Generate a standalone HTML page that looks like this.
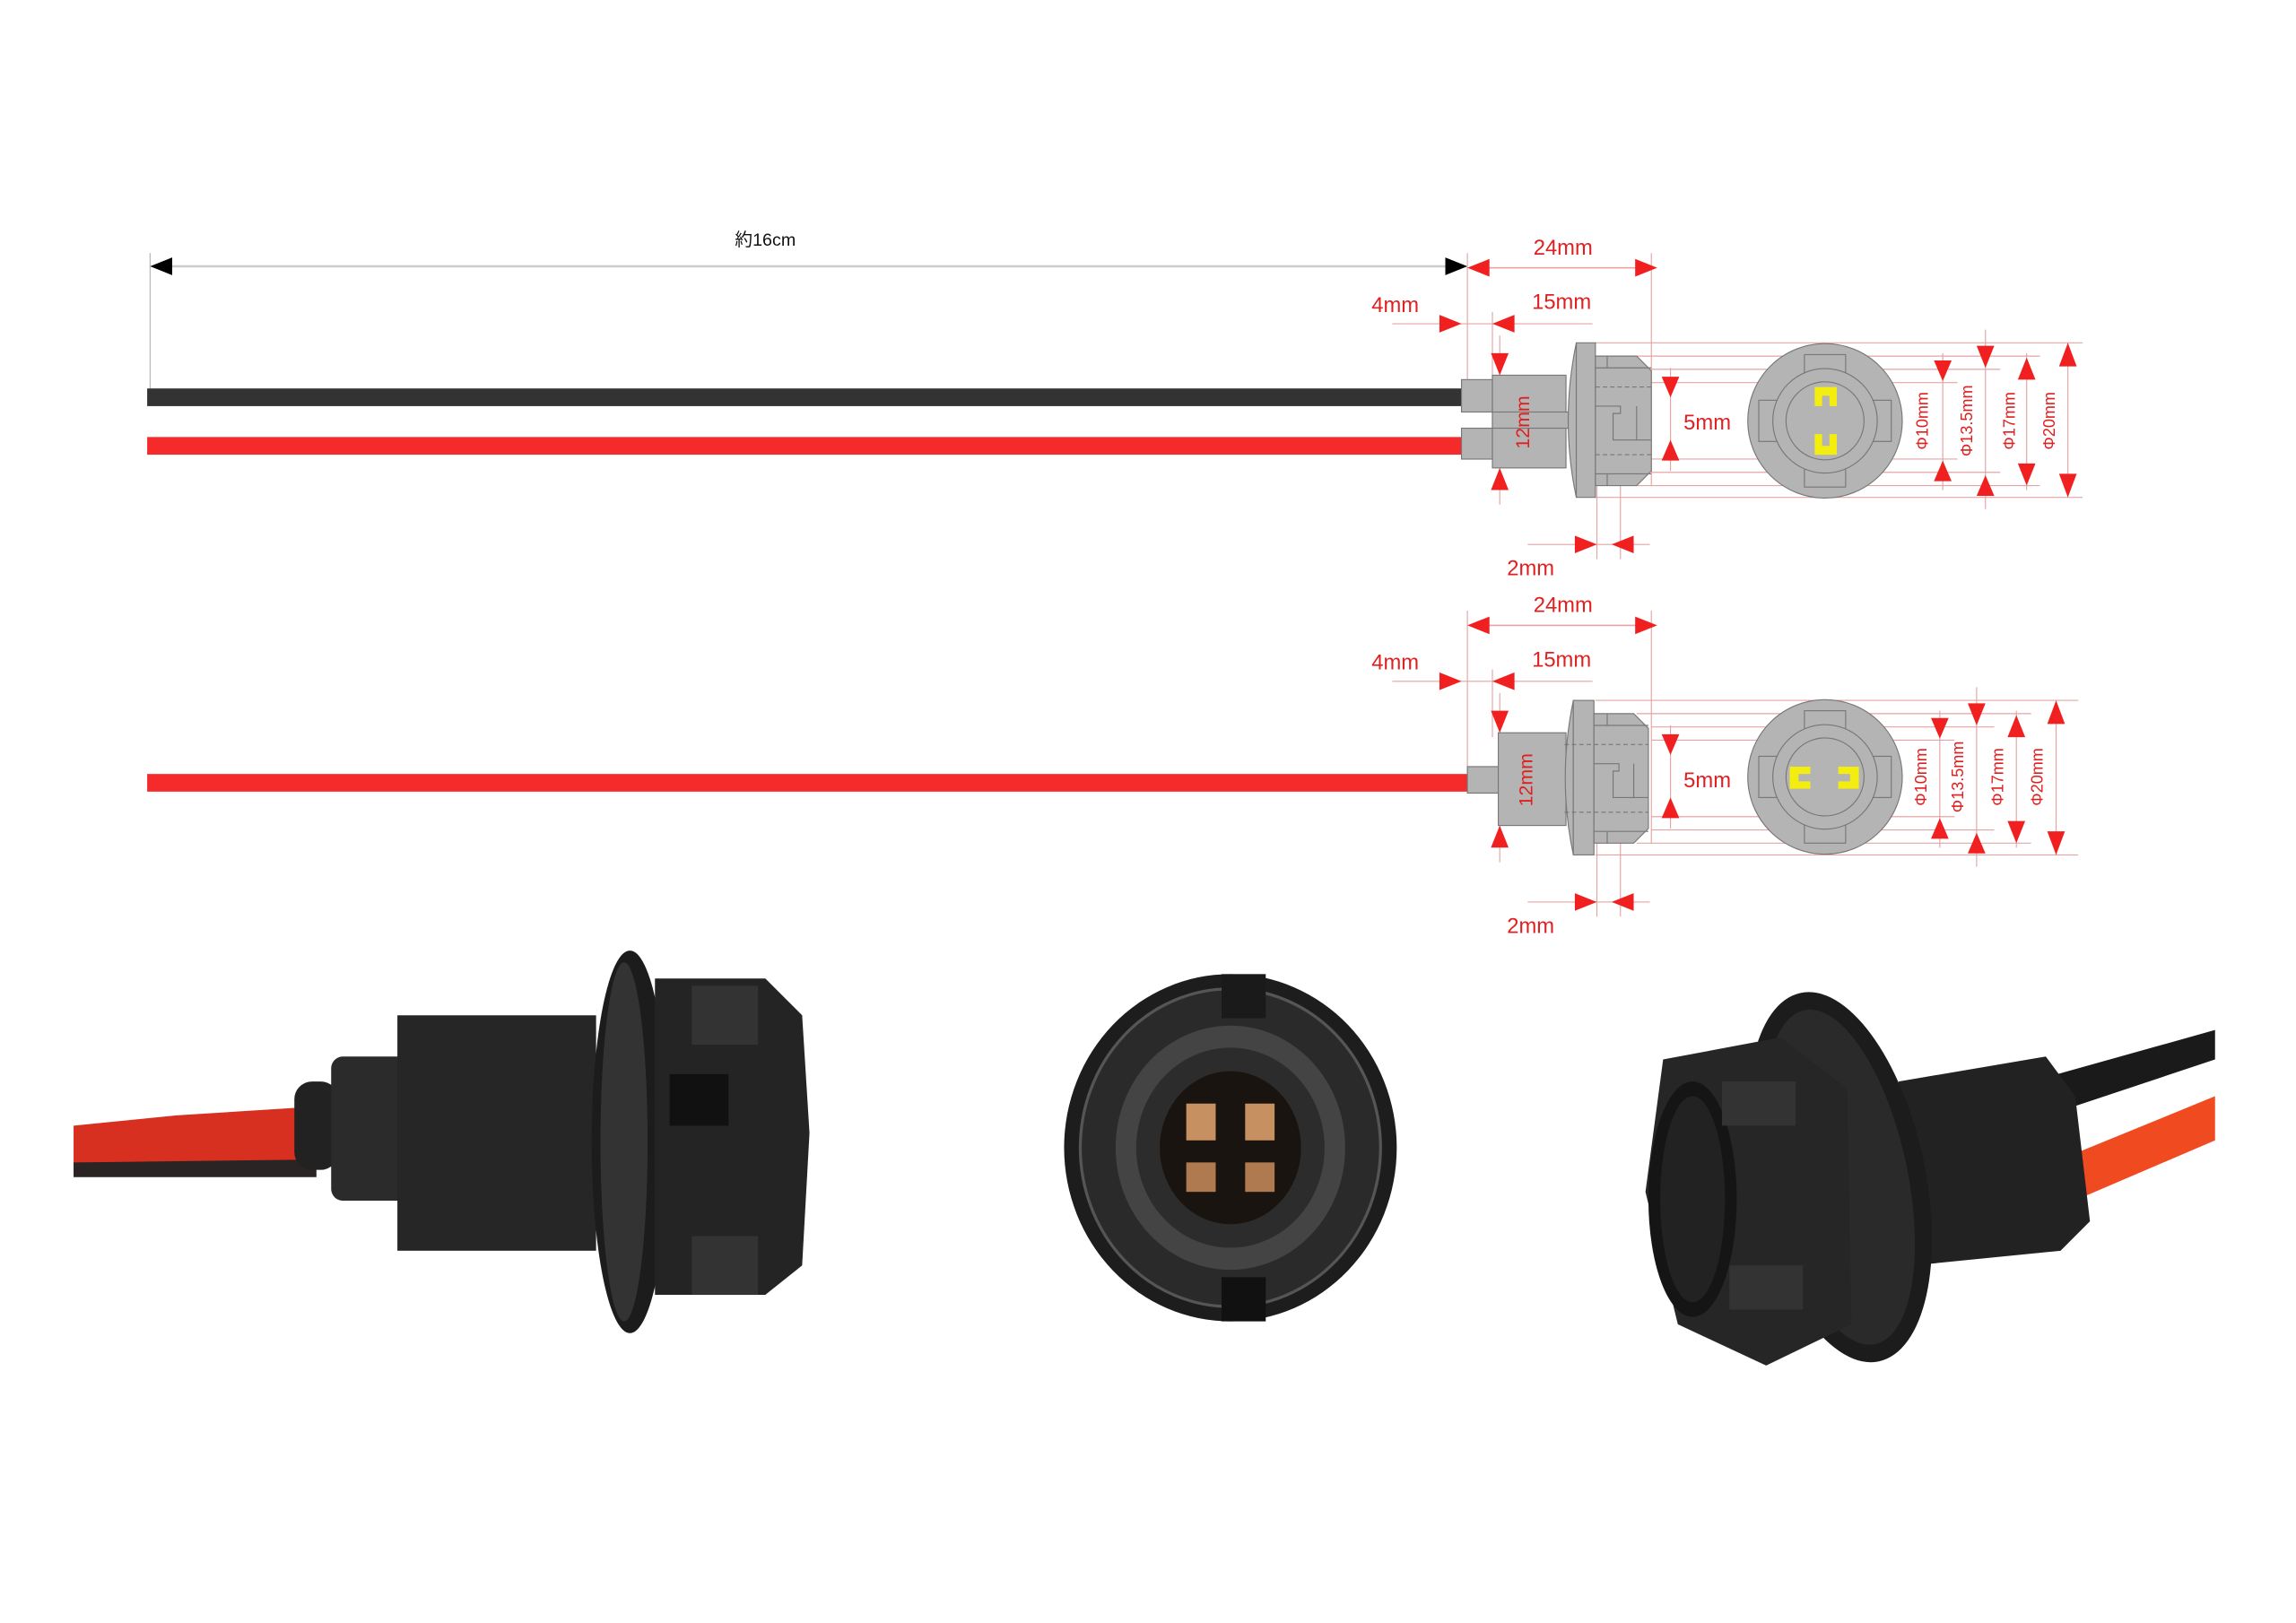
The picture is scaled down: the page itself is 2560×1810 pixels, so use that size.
<!DOCTYPE html>
<html><head><meta charset="utf-8"><style>
html,body{margin:0;padding:0;background:#fff;}
svg{display:block;}
text{font-family:"Liberation Sans","Noto Sans CJK JP",sans-serif;}
</style></head><body>
<svg width="2560" height="1810" viewBox="0 0 1560 1103" preserveAspectRatio="none" xmlns="http://www.w3.org/2000/svg">
<defs>
<marker id="x" viewBox="0 0 1 1"/>
</defs>
<rect width="1560" height="1103" fill="#fff"/>

<!-- top length dimension -->
<line x1="102" y1="172" x2="102" y2="264" stroke="#bbb" stroke-width="0.8"/>
<line x1="110" y1="181" x2="985" y2="181" stroke="#ccc" stroke-width="1.5"/>
<polygon points="102,181 117,175 117,187" fill="#000"/>
<polygon points="997,181 982,175 982,187" fill="#000"/>
<text x="520" y="167" font-size="12" fill="#111" text-anchor="middle">約16cm</text>

<!-- wires -->
<rect x="100" y="264" width="898" height="12" fill="#333"/>
<rect x="100" y="297" width="898" height="12" fill="#f52a2a"/>
<rect x="100" y="526" width="898" height="12" fill="#f52a2a"/>

<!-- Connector drawing 1 -->
<g id="c1" stroke-width="0.8">
  <g stroke="#e4a4a4" stroke-width="0.7" fill="none">
    <line x1="997" y1="172" x2="997" y2="262"/>
    <line x1="1122" y1="172" x2="1122" y2="330"/>
    <line x1="946" y1="220" x2="1082" y2="220"/>
    <line x1="1014" y1="212" x2="1014" y2="258"/>
    <line x1="1019" y1="228" x2="1019" y2="343"/>
    <line x1="1135" y1="250" x2="1135" y2="320"/>
    <line x1="1038" y1="370" x2="1121" y2="370"/>
    <line x1="1085" y1="330" x2="1085" y2="380"/>
    <line x1="1101" y1="330" x2="1101" y2="380"/>
    <line x1="1084" y1="233" x2="1415" y2="233"/>
    <line x1="1112" y1="242" x2="1386" y2="242"/>
    <line x1="1122" y1="251" x2="1359" y2="251"/>
    <line x1="1122" y1="260" x2="1330" y2="260"/>
    <line x1="1122" y1="312" x2="1330" y2="312"/>
    <line x1="1122" y1="321" x2="1359" y2="321"/>
    <line x1="1112" y1="330" x2="1386" y2="330"/>
    <line x1="1084" y1="338" x2="1415" y2="338"/>
    <line x1="1320" y1="240" x2="1320" y2="333"/>
    <line x1="1349" y1="224" x2="1349" y2="346"/>
    <line x1="1377" y1="240" x2="1377" y2="333"/>
    <line x1="1405" y1="233" x2="1405" y2="338"/>
  </g>
  <line x1="1005" y1="182" x2="1115" y2="182" stroke="#e4a4a4" stroke-width="1"/>
  <g fill="#f02020">
    <polygon points="997,182 1012,176 1012,188"/>
    <polygon points="1126,182 1111,176 1111,188"/>
    <polygon points="993,220 978,214 978,226"/>
    <polygon points="1014,220 1029,214 1029,226"/>
    <polygon points="1019,255 1013,240 1025,240"/>
    <polygon points="1019,318 1013,333 1025,333"/>
    <polygon points="1135,270 1129,256 1141,256"/>
    <polygon points="1135,299 1129,313 1141,313"/>
    <polygon points="1085,370 1070,364 1070,376"/>
    <polygon points="1095,370 1110,364 1110,376"/>
    <polygon points="1320,259 1314,245 1326,245"/>
    <polygon points="1320,313 1314,327 1326,327"/>
    <polygon points="1349,250 1343,235 1355,235"/>
    <polygon points="1349,323 1343,337 1355,337"/>
    <polygon points="1377,243 1371,258 1383,258"/>
    <polygon points="1377,330 1371,315 1383,315"/>
    <polygon points="1405,233 1399,249 1411,249"/>
    <polygon points="1405,338 1399,322 1411,322"/>
  </g>
  <g fill="#e02020" font-size="14.5">
    <text x="1062" y="173" text-anchor="middle">24mm</text>
    <text x="1061" y="210" text-anchor="middle">15mm</text>
    <text x="948" y="212" text-anchor="middle">4mm</text>
    <text x="1160" y="292" text-anchor="middle">5mm</text>
    <text x="1040" y="391" text-anchor="middle">2mm</text>
  </g>
  <!-- shape -->
  <g fill="#b4b4b4" stroke="#777" stroke-width="0.7">
    <rect x="993" y="258" width="21" height="22"/>
    <rect x="993" y="291" width="21" height="21"/>
    <rect x="1014" y="255" width="50" height="63"/>
    <rect x="1014" y="280" width="58" height="11"/>
    <path d="M1071,233 Q1060,286 1071,338 Z"/>
    <rect x="1071" y="233" width="13" height="105"/>
    <polygon points="1084,242 1112,242 1122,252 1122,320 1112,330 1084,330"/>
    <line x1="1092" y1="242" x2="1092" y2="250" fill="none"/>
    <line x1="1084" y1="250" x2="1122" y2="250" fill="none"/>
    <line x1="1092" y1="322" x2="1092" y2="330" fill="none"/>
    <line x1="1084" y1="322" x2="1122" y2="322" fill="none"/>
    <polyline points="1084,276 1101,276 1101,281 1096,281 1096,299 1122,299" fill="none"/>
    <line x1="1112" y1="276" x2="1112" y2="299" fill="none"/>
    <line x1="1084" y1="263" x2="1122" y2="263" stroke-dasharray="3,2" fill="none"/>
    <line x1="1084" y1="309" x2="1122" y2="309" stroke-dasharray="3,2" fill="none"/>
    <circle cx="1240" cy="286" r="52.5"/>
    <rect x="1226" y="241" width="28" height="20"/>
    <rect x="1226" y="311" width="28" height="20"/>
    <rect x="1195" y="272" width="16" height="28"/>
    <rect x="1269" y="272" width="16" height="28"/>
    <circle cx="1240" cy="286" r="35.5"/>
    <circle cx="1240" cy="286" r="26.5"/>
  </g>
  <g fill="#f4ee10">
    <path d="M1233,263 h15 v13 h-5 v-7 h-5 v7 h-5 z"/>
    <path d="M1233,309 h15 v-14 h-5 v8 h-5 v-8 h-5 z"/>
  </g>
  <g fill="#e02020" font-size="11">
    <text transform="translate(1039,287) rotate(-90)" text-anchor="middle" font-size="13">12mm</text>
    <text transform="translate(1310,286) rotate(-90)" text-anchor="middle">Φ10mm</text>
    <text transform="translate(1340,286) rotate(-90)" text-anchor="middle">Φ13.5mm</text>
    <text transform="translate(1369,286) rotate(-90)" text-anchor="middle">Φ17mm</text>
    <text transform="translate(1396,286) rotate(-90)" text-anchor="middle">Φ20mm</text>
  </g>
</g>

<!-- Connector drawing 2 -->
<g transform="translate(0,243)" stroke-width="0.8">
  <g stroke="#e4a4a4" stroke-width="0.7" fill="none">
    <line x1="997" y1="172" x2="997" y2="283"/>
    <line x1="1122" y1="172" x2="1122" y2="330"/>
    <line x1="946" y1="220" x2="1082" y2="220"/>
    <line x1="1014" y1="212" x2="1014" y2="258"/>
    <line x1="1019" y1="228" x2="1019" y2="343"/>
    <line x1="1135" y1="250" x2="1135" y2="320"/>
    <line x1="1038" y1="370" x2="1121" y2="370"/>
    <line x1="1085" y1="330" x2="1085" y2="380"/>
    <line x1="1101" y1="330" x2="1101" y2="380"/>
    <line x1="1084" y1="233" x2="1412" y2="233"/>
    <line x1="1112" y1="242" x2="1380" y2="242"/>
    <line x1="1122" y1="251" x2="1355" y2="251"/>
    <line x1="1122" y1="260" x2="1328" y2="260"/>
    <line x1="1122" y1="312" x2="1328" y2="312"/>
    <line x1="1122" y1="321" x2="1355" y2="321"/>
    <line x1="1112" y1="330" x2="1380" y2="330"/>
    <line x1="1084" y1="338" x2="1412" y2="338"/>
    <line x1="1318" y1="240" x2="1318" y2="333"/>
    <line x1="1343" y1="224" x2="1343" y2="346"/>
    <line x1="1370" y1="240" x2="1370" y2="333"/>
    <line x1="1397" y1="233" x2="1397" y2="338"/>
  </g>
  <line x1="1005" y1="182" x2="1115" y2="182" stroke="#e4a4a4" stroke-width="1"/>
  <g fill="#f02020">
    <polygon points="997,182 1012,176 1012,188"/>
    <polygon points="1126,182 1111,176 1111,188"/>
    <polygon points="993,220 978,214 978,226"/>
    <polygon points="1014,220 1029,214 1029,226"/>
    <polygon points="1019,255 1013,240 1025,240"/>
    <polygon points="1019,318 1013,333 1025,333"/>
    <polygon points="1135,270 1129,256 1141,256"/>
    <polygon points="1135,299 1129,313 1141,313"/>
    <polygon points="1085,370 1070,364 1070,376"/>
    <polygon points="1095,370 1110,364 1110,376"/>
    <polygon points="1318,259 1312,245 1324,245"/>
    <polygon points="1318,313 1312,327 1324,327"/>
    <polygon points="1343,250 1337,235 1349,235"/>
    <polygon points="1343,323 1337,337 1349,337"/>
    <polygon points="1370,243 1364,258 1376,258"/>
    <polygon points="1370,330 1364,315 1376,315"/>
    <polygon points="1397,233 1391,249 1403,249"/>
    <polygon points="1397,338 1391,322 1403,322"/>
  </g>
  <g fill="#e02020" font-size="14.5">
    <text x="1062" y="173" text-anchor="middle">24mm</text>
    <text x="1061" y="210" text-anchor="middle">15mm</text>
    <text x="948" y="212" text-anchor="middle">4mm</text>
    <text x="1160" y="292" text-anchor="middle">5mm</text>
    <text x="1040" y="391" text-anchor="middle">2mm</text>
  </g>
  <g fill="#b4b4b4" stroke="#777" stroke-width="0.7">
    <rect x="997" y="278" width="21" height="18"/>
    <rect x="1018" y="255" width="46" height="63"/>
    <path d="M1069,233 Q1058,286 1069,338 Z"/>
    <rect x="1069" y="233" width="14" height="105"/>
    <polygon points="1083,242 1110,242 1120,252 1120,320 1110,330 1083,330"/>
    <line x1="1092" y1="242" x2="1092" y2="250" fill="none"/>
    <line x1="1083" y1="250" x2="1120" y2="250" fill="none"/>
    <line x1="1092" y1="322" x2="1092" y2="330" fill="none"/>
    <line x1="1083" y1="322" x2="1120" y2="322" fill="none"/>
    <polyline points="1083,276 1100,276 1100,281 1096,281 1096,299 1120,299" fill="none"/>
    <line x1="1110" y1="276" x2="1110" y2="299" fill="none"/>
    <line x1="1063" y1="263" x2="1120" y2="263" stroke-dasharray="3,2" fill="none"/>
    <line x1="1063" y1="309" x2="1120" y2="309" stroke-dasharray="3,2" fill="none"/>
    <circle cx="1240" cy="285" r="52.5"/>
    <rect x="1226" y="240" width="28" height="20"/>
    <rect x="1226" y="310" width="28" height="20"/>
    <rect x="1195" y="271" width="16" height="28"/>
    <rect x="1269" y="271" width="16" height="28"/>
    <circle cx="1240" cy="285" r="35.5"/>
    <circle cx="1240" cy="285" r="26.5"/>
  </g>
  <g fill="#f4ee10">
    <path d="M1216,278 h14 v5 h-8 v5 h8 v5 h-14 z"/>
    <path d="M1263,278 h-14 v5 h8 v5 h-8 v5 h14 z"/>
  </g>
  <g fill="#e02020" font-size="11">
    <text transform="translate(1041,287) rotate(-90)" text-anchor="middle" font-size="13">12mm</text>
    <text transform="translate(1309,285) rotate(-90)" text-anchor="middle">Φ10mm</text>
    <text transform="translate(1334,285) rotate(-90)" text-anchor="middle">Φ13.5mm</text>
    <text transform="translate(1361,285) rotate(-90)" text-anchor="middle">Φ17mm</text>
    <text transform="translate(1388,285) rotate(-90)" text-anchor="middle">Φ20mm</text>
  </g>
</g>

<!-- Photo 1: side view -->
<g>
  <path d="M50,765 L120,758 L215,752 L215,790 L120,795 L50,797 Z" fill="#d83020"/>
  <path d="M50,790 L215,788 L215,800 L50,800 Z" fill="#2a2424"/>
  <rect x="200" y="735" width="30" height="60" rx="12" fill="#222"/>
  <rect x="225" y="718" width="180" height="98" rx="8" fill="#2b2b2b"/>
  <rect x="270" y="690" width="135" height="160" fill="#262626"/>
  <ellipse cx="428" cy="776" rx="26" ry="130" fill="#1c1c1c"/>
  <ellipse cx="424" cy="776" rx="16" ry="122" fill="#333"/>
  <path d="M445,665 L520,665 L545,690 L550,770 L545,860 L520,880 L445,880 Z" fill="#242424"/>
  <rect x="470" y="670" width="45" height="40" fill="#333"/>
  <rect x="455" y="730" width="40" height="35" fill="#111"/>
  <rect x="470" y="840" width="45" height="40" fill="#333"/>
</g>

<!-- Photo 2: front view -->
<g>
  <ellipse cx="836" cy="780" rx="113" ry="118" fill="#1d1d1d"/>
  <ellipse cx="836" cy="780" rx="102" ry="108" fill="#2a2a2a" stroke="#555" stroke-width="2"/>
  <ellipse cx="836" cy="780" rx="78" ry="83" fill="#444"/>
  <ellipse cx="836" cy="780" rx="64" ry="68" fill="#2c2c2c"/>
  <ellipse cx="836" cy="780" rx="48" ry="52" fill="#1a1410"/>
  <rect x="806" y="750" width="20" height="25" fill="#c79060"/>
  <rect x="846" y="750" width="20" height="25" fill="#c79060"/>
  <rect x="806" y="790" width="20" height="20" fill="#b07a50"/>
  <rect x="846" y="790" width="20" height="20" fill="#b07a50"/>
  <rect x="830" y="662" width="30" height="30" fill="#1a1a1a"/>
  <rect x="830" y="868" width="30" height="30" fill="#111"/>
</g>

<!-- Photo 3: angled view -->
<g>
  <path d="M1380,735 L1505,700 L1505,720 L1385,760 Z" fill="#1a1a1a"/>
  <path d="M1395,790 L1505,745 L1505,775 L1400,820 Z" fill="#f04a20"/>
  <path d="M1290,735 L1390,718 L1410,745 L1420,830 L1400,850 L1300,860 Z" fill="#222"/>
  <ellipse cx="1250" cy="800" rx="58" ry="128" transform="rotate(-12 1250 800)" fill="#1c1c1c"/>
  <ellipse cx="1250" cy="800" rx="46" ry="116" transform="rotate(-12 1250 800)" fill="#2a2a2a"/>
  <path d="M1130,720 L1210,705 L1255,740 L1258,900 L1200,928 L1140,900 L1118,810 Z" fill="#262626"/>
  <ellipse cx="1150" cy="815" rx="30" ry="80" fill="#151515"/>
  <ellipse cx="1150" cy="815" rx="22" ry="70" fill="#222"/>
  <rect x="1170" y="735" width="50" height="30" fill="#333"/>
  <rect x="1175" y="860" width="50" height="30" fill="#333"/>
</g>
</svg>
</body></html>
